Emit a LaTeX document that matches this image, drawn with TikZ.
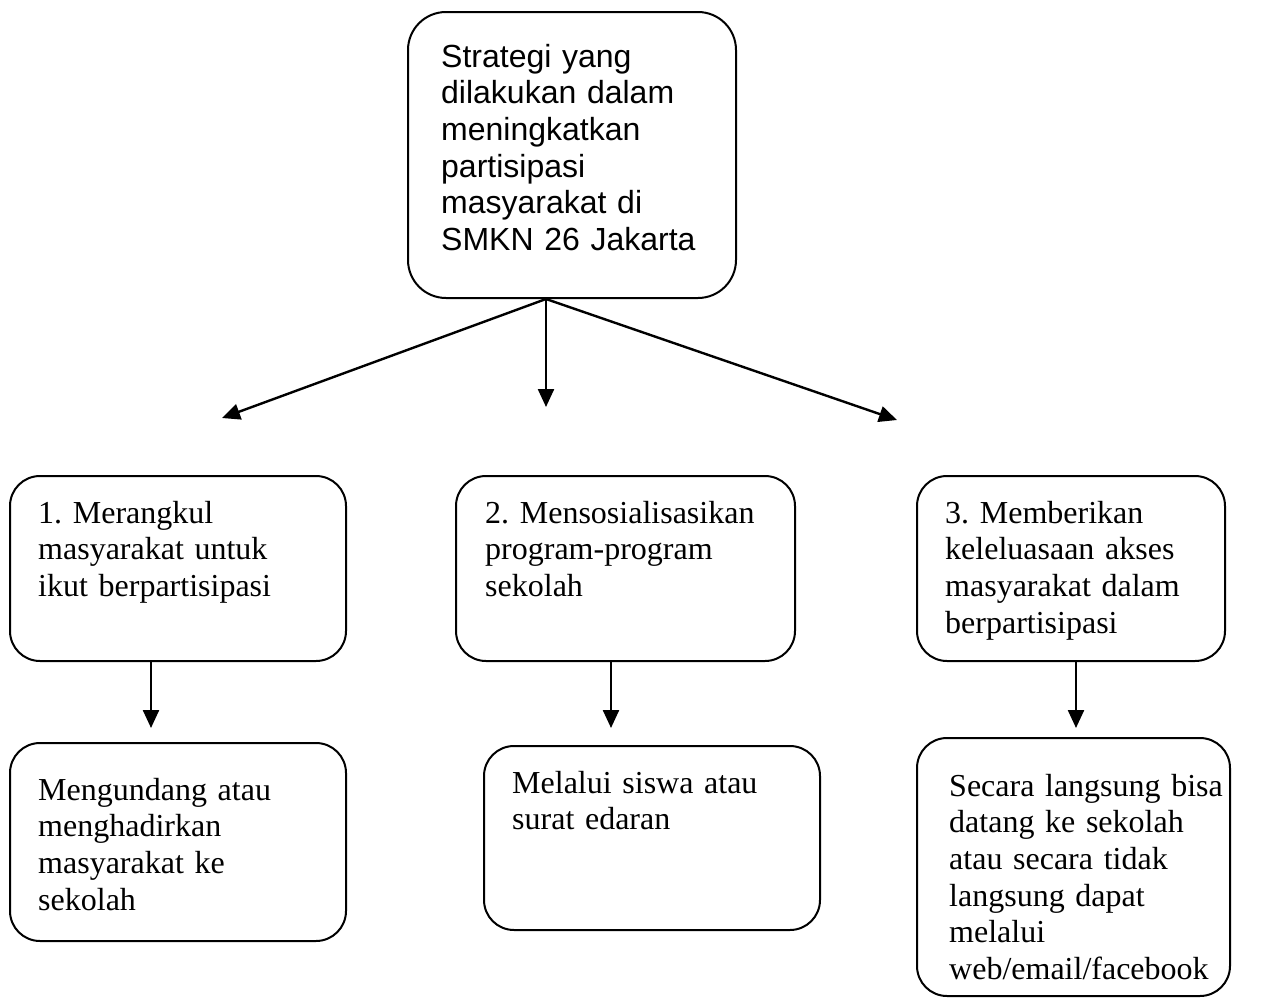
\documentclass[tikz,border=0pt]{standalone}
\usepackage{fontspec}
\setmainfont{Liberation Serif}
\newfontfamily\arialfont{Liberation Sans}
\usetikzlibrary{arrows.meta,calc}
\begin{document}
\begin{tikzpicture}[x=1pt,y=-1pt,
  box/.style={draw, line width=2pt, rounded corners=30pt, inner sep=0pt},
  sanstext/.style={font=\arialfont\fontsize{32}{36.7}\selectfont\frenchspacing, align=left, anchor=north west, inner sep=0pt, text width=300pt},
  seriftext/.style={font=\fontsize{32}{36.7}\selectfont\frenchspacing, align=left, anchor=north west, inner sep=0pt, text width=300pt},
  arr/.style={line width=2.4pt, -{Triangle[length=18pt,width=16pt]}}]
\useasboundingbox[fill=white] (0,0) rectangle (1262,1004);

% boxes
\node[box, rounded corners=38pt, minimum width=328pt, minimum height=286pt] (top) at (572,155) {};
\node[box, minimum width=336pt, minimum height=185pt] (b1) at (178,568.5) {};
\node[box, minimum width=339pt, minimum height=185pt] (b2) at (625.5,568.5) {};
\node[box, minimum width=308pt, minimum height=185pt] (b3) at (1071,568.5) {};
\node[box, minimum width=336pt, minimum height=198pt] (b4) at (178,842) {};
\node[box, minimum width=336pt, minimum height=184pt] (b5) at (652,838) {};
\node[box, minimum width=313pt, minimum height=258pt] (b6) at (1073.5,867) {};

% texts
\node[sanstext] (ttop) at (441,41.3) {\strut Strategi yang\\dilakukan dalam\\meningkatkan\\partisipasi\\masyarakat di\\SMKN 26 Jakarta};
\node[seriftext] (t1) at (38,497.3) {\strut 1. Merangkul\\masyarakat untuk\\ikut berpartisipasi};
\node[seriftext] (t2) at (485,497.3) {\strut 2. Mensosialisasikan\\program-program\\sekolah};
\node[seriftext] (t3) at (945,497.3) {\strut 3. Memberikan\\keleluasaan akses\\masyarakat dalam\\berpartisipasi};
\node[seriftext] (t4) at (38,774.3) {\strut Mengundang atau\\menghadirkan\\masyarakat ke\\sekolah};
\node[seriftext] (t5) at (512,767.3) {\strut Melalui siswa atau\\surat edaran};
\node[seriftext] (t6) at (949,770.3) {\strut Secara langsung bisa\\datang ke sekolah\\atau secara tidak\\langsung dapat\\melalui\\web/email/facebook};

% connectors
\coordinate (src) at ($(top.south)+(-26,0)$);
\coordinate (tipL) at (222,418);
\coordinate (tipM) at (546,407);
\coordinate (tipR) at (897,420);
\draw[arr] (src) -- (tipL);
\draw[arr] (src) -- (tipM);
\draw[arr] (src) -- (tipR);

\coordinate (e1) at (151,728);
\coordinate (e2) at (611,728);
\coordinate (e3) at (1076,728);
\draw[arr] ($(b1.south)+(-27,0)$) -- (e1);
\draw[arr] ($(b2.south)+(-14.5,0)$) -- (e2);
\draw[arr] ($(b3.south)+(5,0)$) -- (e3);
\end{tikzpicture}
\end{document}
